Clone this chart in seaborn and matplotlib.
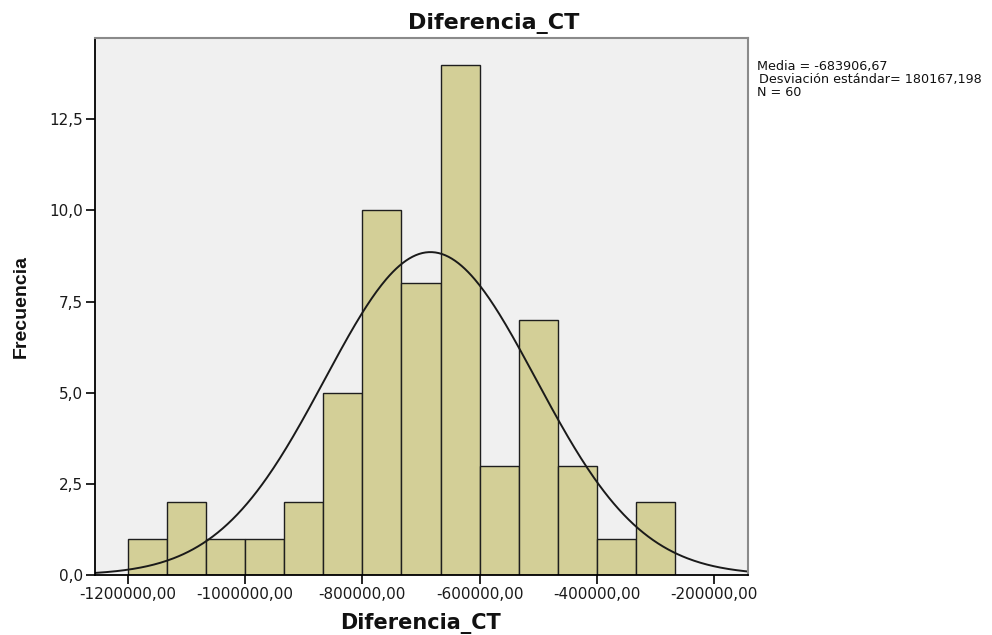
import numpy as np
import pandas as pd
import matplotlib
matplotlib.use("Agg")
import matplotlib.pyplot as plt
import seaborn as sns
from matplotlib.ticker import FuncFormatter

# Data
bin_start = -1200000.0
bin_width = 200000.0 / 3.0
counts = [1, 2, 1, 1, 2, 5, 10, 8, 14, 3, 7, 3, 1, 2]
mean_val = -683906.67
sd_val = 180167.198
n_val = 60
x_ticks = [-1200000, -1000000, -800000, -600000, -400000, -200000]
y_ticks = [0.0, 2.5, 5.0, 7.5, 10.0, 12.5]

edges = bin_start + bin_width * np.arange(len(counts) + 1)
centers = (edges[:-1] + edges[1:]) / 2
df = pd.DataFrame({"Diferencia_CT": centers, "w": counts})

sns.set_style("white")
plt.rcParams["font.family"] = ["DejaVu Sans"]

W, H = 992, 635
fig = plt.figure(figsize=(9.92, 6.35), dpi=100)
ax = fig.add_axes([95 / W, 1 - 575 / H, (748 - 95) / W, (575 - 38) / H])
ax.set_facecolor("#f0f0f0")

sns.histplot(data=df, x="Diferencia_CT", weights="w", bins=len(counts),
             binrange=(float(edges[0]), float(edges[-1])), ax=ax,
             color="#d3cf97", alpha=1.0, edgecolor="#1e1e1e", linewidth=1.0)

xs = np.linspace(-1256410, -141880, 400)
ys = n_val * bin_width * np.exp(-0.5 * ((xs - mean_val) / sd_val) ** 2) / (sd_val * np.sqrt(2 * np.pi))
ax.plot(xs, ys, color="#1a1a1a", linewidth=1.4)

ax.set_xlim(-1256410, -141880)
ax.set_ylim(0, 14.73)
ax.set_xticks(x_ticks)
ax.set_yticks(y_ticks)
ax.xaxis.set_major_formatter(FuncFormatter(lambda v, p: f"{v:.2f}".replace(".", ",")))
ax.yaxis.set_major_formatter(FuncFormatter(lambda v, p: f"{v:.1f}".replace(".", ",")))
ax.tick_params(axis="both", direction="out", length=6.5, width=1.2, labelsize=11,
               color="black", labelcolor="#1a1a1a", left=True, bottom=True, pad=2)
for s in ["left", "bottom"]:
    ax.spines[s].set_color("black")
    ax.spines[s].set_linewidth(1.3)
for s in ["top", "right"]:
    ax.spines[s].set_color("#8a8a8a")
    ax.spines[s].set_linewidth(1.5)

ax.set_xlabel("")
ax.set_ylabel("")

# title and axis labels
fig.text(494 / W, 1 - 29 / H, "Diferencia_CT", fontsize=16, fontweight="bold",
         ha="center", va="baseline", color="#111111")
fig.text(421 / W, 1 - 629 / H, "Diferencia_CT", fontsize=15, fontweight="bold",
         ha="center", va="baseline", color="#111111")
fig.text(21 / W, 1 - 306 / H, "Frecuencia", fontsize=14, fontweight="bold",
         family="Liberation Sans", rotation=90, ha="center", va="center", color="#111111")

# statistics box
fig.text(757 / W, 1 - 70 / H, f"Media = {mean_val:.2f}".replace(".", ","),
         fontsize=9.2, ha="left", va="baseline", color="#111111")
fig.text(759 / W, 1 - 83 / H, f"Desviación estándar= {sd_val:.3f}".replace(".", ","),
         fontsize=9.2, ha="left", va="baseline", color="#111111")
fig.text(757 / W, 1 - 96 / H, f"N = {n_val}",
         fontsize=9.2, ha="left", va="baseline", color="#111111")

fig.savefig("out.png", dpi=100, facecolor="white")
